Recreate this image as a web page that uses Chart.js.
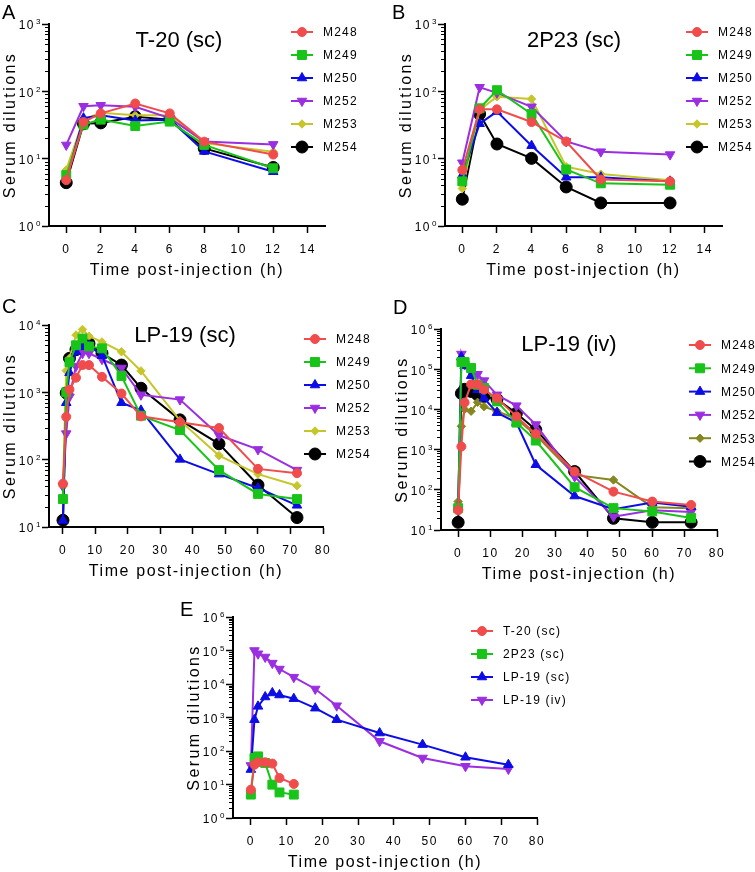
<!DOCTYPE html>
<html>
<head>
<meta charset="utf-8">
<script src="https://cdn.jsdelivr.net/npm/chart.js@4.4.1/dist/chart.umd.min.js"></script>
<style>
  html, body { margin: 0; padding: 0; background: #fff; }
  #wrap { position: relative; width: 755px; height: 872px; }
  #wrap canvas { position: absolute; left: 0; top: 0; }
</style>
</head>
<body>
<div id="wrap">
  <canvas id="chartA" width="755" height="872"></canvas>
  <canvas id="chartB" width="755" height="872"></canvas>
  <canvas id="chartC" width="755" height="872"></canvas>
  <canvas id="chartD" width="755" height="872"></canvas>
  <canvas id="chartE" width="755" height="872"></canvas>
</div>
<script>
// ---- data ----
const monkeyIds = ['M248', 'M249', 'M250', 'M252', 'M253', 'M254'];
const hoursShort = [0, 1, 2, 4, 6, 8, 12];
const hoursLong = [0, 1, 2, 4, 6, 8, 12, 18, 24, 36, 48, 60, 72];
const xTicksShort = [0, 2, 4, 6, 8, 10, 12, 14];
const xTicksLong = [0, 10, 20, 30, 40, 50, 60, 70, 80];
const yExpA = [0, 1, 2, 3];
const yExpB = [0, 1, 2, 3];
const yExpC = [1, 2, 3, 4];
const yExpD = [1, 2, 3, 4, 5, 6];
const yExpE = [0, 1, 2, 3, 4, 5, 6];

// A: T-20 (sc)
const t20M248 = [4.8, 35, 47, 66, 47, 17.9, 11.5];
const t20M249 = [5.7, 32, 38, 30.5, 35.5, 16, 7.2];
const t20M250 = [5.0, 40, 44, 37, 38, 12.8, 6.4];
const t20M252 = [16, 60, 62, 59, 40, 18, 16.3];
const t20M253 = [6.8, 38, 48, 44, 44, 17, 12.7];
const t20M254 = [4.4, 33, 34, 42, 38, 14.2, 7.4];

// B: 2P23 (sc)
const p23M248 = [6.8, 54, 54, 35, 18, 4.9, 4.6];
const p23M249 = [4.6, 56, 104, 46, 6.9, 4.3, 4.1];
const p23M250 = [5.7, 33, 50, 15.6, 5.3, 5.3, 4.6];
const p23M252 = [8.7, 115, 95, 59, 18, 12.7, 11.5];
const p23M253 = [3.6, 53, 83, 77, 7.6, 5.9, 4.8];
const p23M254 = [2.5, 46, 16.5, 10.1, 3.8, 2.2, 2.2];

// C: LP-19 (sc)
const lpScM248 = [44, 433, 1100, 1650, 2540, 2540, 1700, 960, 440, 360, 295, 73, 63];
const lpScM249 = [26, 1000, 2800, 5000, 6300, 4800, 4500, 1750, 450, 275, 70, 31, 26];
const lpScM250 = [12.5, 700, 1950, 4000, 4750, 5000, 3500, 700, 540, 101, 61, 38, 21];
const lpScM252 = [40, 244, 860, 2450, 3800, 3800, 3100, 2300, 920, 780, 230, 142, 70];
const lpScM253 = [40, 2100, 3200, 7100, 8600, 6800, 5600, 4000, 2080, 380, 115, 61, 41];
const lpScM254 = [12.6, 980, 3200, 4300, 4750, 5300, 3800, 2540, 1150, 390, 172, 42, 13.8];

// D: LP-19 (iv)
const lpIvM248 = [31, 1190, 14800, 42000, 42000, 31000, 19000, 6700, 2460, 284, 90, 51, 42];
const lpIvM249 = [35, 150000, 150000, 107000, 41000, 34000, 15800, 4700, 1680, 116, 35, 29, 20];
const lpIvM250 = [38, 200000, 123000, 69000, 31000, 19000, 8300, 4700, 420, 70, 33, 48, 38];
const lpIvM252 = [32, 238000, 130000, 90000, 75000, 52000, 23000, 12400, 4200, 213, 21.5, 31, 28];
const lpIvM253 = [51, 3800, 10000, 9000, 15000, 11700, 9000, 5800, 2300, 235, 176, 37, 35];
const lpIvM254 = [15.5, 25000, 31600, 28000, 23000, 21000, 18000, 8000, 3100, 285, 19.5, 15.5, 15.5];

// E: means per peptide
const peptideNames = ['T-20 (sc)', '2P23 (sc)', 'LP-19 (sc)', 'LP-19 (iv)'];
const meanT20 = [7, 39, 46, 46, 42, 15.6, 10.4];
const mean2P23 = [5, 62, 69, 44, 9.9, 5.8, 5];
const meanLpSc = [28, 860, 2150, 4100, 5400, 4700, 3650, 1900, 860, 344, 155, 65, 39];
const meanLpIv = [37, 100000, 80000, 64000, 42000, 28000, 16000, 7100, 2250, 195, 62, 35, 29];

// ---- styles ----
const FONT = "'Liberation Sans', Arial, sans-serif";
const RED = '#f04c4c', GREEN = '#18c418', BLUE = '#0c0ce6', PURPLE = '#9a2ee0',
      YELLOW = '#c6c62a', OLIVE = '#86861e', BLACK = '#000000';

const mk = (color, pointStyle, radius, rotation) => ({ color, pointStyle, radius, rotation: rotation || 0 });
const monkeyStyles = [
  mk(RED, 'circle', 4.5), mk(GREEN, 'rect', 6.3), mk(BLUE, 'triangle', 5.5),
  mk(PURPLE, 'triangle', 5.5, 180), mk(YELLOW, 'rectRot', 4.2), mk(BLACK, 'circle', 6)
];
const monkeyStylesD = monkeyStyles.map((s, i) => i === 4 ? mk(OLIVE, 'rectRot', 4.2) : s);
const peptideStyles = [
  mk(RED, 'circle', 4.5), mk(GREEN, 'rect', 6.3), mk(BLUE, 'triangle', 5.5), mk(PURPLE, 'triangle', 5.5, 180)
];

// draws the GraphPad-like extras: letter, title, y labels, minor ticks, axis titles, legend
const decor = {
  id: 'panelDecor',
  beforeDraw(chart) {
    chart.ctx.letterSpacing = '1.5px';
  },
  afterDraw(chart, args, o) {
    const ctx = chart.ctx;
    const ys = chart.scales.y;
    const L = chart.chartArea.left, T = chart.chartArea.top;
    const R = chart.chartArea.right, B = chart.chartArea.bottom;
    ctx.save();
    ctx.fillStyle = '#000';
    ctx.strokeStyle = '#000';

    // minor ticks on the log axis
    ctx.lineWidth = 1;
    for (let e = o.yExp[0]; e < o.yExp[o.yExp.length - 1]; e++) {
      for (let m = 2; m <= 9; m++) {
        const y = Math.round(ys.getPixelForValue(m * Math.pow(10, e))) + 0.5;
        ctx.beginPath(); ctx.moveTo(L - 4, y); ctx.lineTo(L, y); ctx.stroke();
      }
    }

    // 10^n labels
    o.yExp.forEach(e => {
      const y = ys.getPixelForValue(Math.pow(10, e));
      ctx.letterSpacing = '1.5px';
      ctx.font = '12px ' + FONT;
      ctx.textAlign = 'right';
      ctx.textBaseline = 'middle';
      ctx.fillText('10', L - 14, y + 2);
      ctx.letterSpacing = '0px';
      ctx.font = '8px ' + FONT;
      ctx.textAlign = 'left';
      ctx.fillText(String(e), L - 13, y - 2);
    });

    // panel letter
    ctx.letterSpacing = '0px';
    ctx.font = '20px ' + FONT;
    ctx.textAlign = 'left';
    ctx.textBaseline = 'top';
    ctx.fillText(o.letter[0], o.letter[1], o.letter[2]);

    // title inside the plot
    if (o.title) {
      ctx.font = '22px ' + FONT;
      ctx.textAlign = 'center';
      ctx.textBaseline = 'middle';
      ctx.fillText(o.title[0], o.title[1], o.title[2]);
    }

    // axis titles
    ctx.font = '16px ' + FONT;
    ctx.textAlign = 'center';
    ctx.textBaseline = 'middle';
    ctx.letterSpacing = '1.6px';
    ctx.fillText('Time post-injection (h)', (L + R) / 2, B + 45);
    ctx.save();
    ctx.translate(L - 38, (T + B) / 2);
    ctx.rotate(-Math.PI / 2);
    ctx.letterSpacing = '2.4px';
    ctx.fillText('Serum dilutions', 0, 0);
    ctx.restore();

    // legend: line segment with marker, then label
    const helpers = Chart.helpers;
    o.legend.names.forEach((name, i) => {
      const st = o.legend.styles[i];
      const x = o.legend.x, y = o.legend.y + i * o.legend.gap;
      ctx.strokeStyle = st.color;
      ctx.fillStyle = st.color;
      ctx.lineWidth = 2;
      ctx.beginPath(); ctx.moveTo(x - 11, y); ctx.lineTo(x + 11, y); ctx.stroke();
      ctx.lineWidth = 1;
      if (helpers && helpers.drawPoint) {
        helpers.drawPoint(ctx, { pointStyle: st.pointStyle, rotation: st.rotation, radius: st.radius, borderWidth: 1 }, x, y);
      } else {
        ctx.beginPath(); ctx.arc(x, y, st.radius, 0, Math.PI * 2); ctx.fill();
      }
      ctx.fillStyle = '#000';
      ctx.font = '12px ' + FONT;
      ctx.textAlign = 'left';
      ctx.textBaseline = 'middle';
      ctx.letterSpacing = '1.2px';
      ctx.fillText(name, x + 21, y + 1);
    });
    ctx.restore();
  }
};

function buildPanel(id, cfg) {
  const datasets = cfg.series.map((vals, i) => {
    const st = cfg.styles[i];
    return {
      label: cfg.names[i],
      data: vals.map((v, j) => ({ x: cfg.hours[i][j], y: v })),
      borderColor: st.color,
      backgroundColor: st.color,
      pointBackgroundColor: st.color,
      pointBorderColor: st.color,
      pointStyle: st.pointStyle,
      pointRotation: st.rotation,
      pointRadius: st.radius,
      pointBorderWidth: 1,
      borderWidth: 2,
      tension: 0,
      clip: false
    };
  });
  const xAxisH = 36;
  return new Chart(document.getElementById(id), {
    type: 'line',
    data: { datasets },
    options: {
      responsive: false,
      animation: false,
      events: [],
      layout: { padding: { left: 0, top: cfg.box.T, right: 755 - cfg.box.R, bottom: 872 - cfg.box.B - xAxisH } },
      plugins: {
        legend: { display: false },
        tooltip: { enabled: false },
        panelDecor: {
          letter: cfg.letter, title: cfg.title, yExp: cfg.yExp,
          legend: { names: cfg.names, styles: cfg.styles, x: cfg.legend[0], y: cfg.legend[1], gap: cfg.legend[2] }
        }
      },
      scales: {
        x: {
          type: 'linear',
          min: cfg.xRange[0], max: cfg.xRange[1],
          afterBuildTicks: s => { s.ticks = cfg.xTicks.map(v => ({ value: v })); },
          afterFit: s => { s.height = xAxisH; },
          grid: { drawOnChartArea: false, tickLength: 7, tickColor: '#000', tickWidth: 1.5 },
          border: { color: '#000', width: 2 },
          ticks: { color: '#000', font: { size: 12, family: FONT }, padding: 9, maxRotation: 0, autoSkip: false }
        },
        y: {
          type: 'logarithmic',
          min: Math.pow(10, cfg.yExp[0]), max: Math.pow(10, cfg.yExp[cfg.yExp.length - 1]),
          afterBuildTicks: s => { s.ticks = cfg.yExp.map(e => ({ value: Math.pow(10, e) })); },
          afterFit: s => { s.width = cfg.box.L; },
          grid: { drawOnChartArea: false, tickLength: 7, tickColor: '#000', tickWidth: 1.5 },
          border: { color: '#000', width: 2 },
          ticks: { display: false }
        }
      }
    },
    plugins: [decor]
  });
}

const six = n => Array(6).fill(n);

buildPanel('chartA', {
  box: { L: 49, R: 325, T: 24, B: 226 }, xRange: [-1, 15], xTicks: xTicksShort, yExp: yExpA,
  hours: six(hoursShort), names: monkeyIds, styles: monkeyStyles,
  series: [t20M248, t20M249, t20M250, t20M252, t20M253, t20M254],
  letter: ['A', 2, 3], title: ['T-20 (sc)', 179, 41], legend: [302, 32, 23]
});
buildPanel('chartB', {
  box: { L: 445, R: 722, T: 24, B: 226 }, xRange: [-1, 15], xTicks: xTicksShort, yExp: yExpB,
  hours: six(hoursShort), names: monkeyIds, styles: monkeyStyles,
  series: [p23M248, p23M249, p23M250, p23M252, p23M253, p23M254],
  letter: ['B', 392, 3], title: ['2P23 (sc)', 574, 41], legend: [697, 32, 23]
});
buildPanel('chartC', {
  box: { L: 49, R: 323, T: 325, B: 527 }, xRange: [-4.3, 80], xTicks: xTicksLong, yExp: yExpC,
  hours: six(hoursLong), names: monkeyIds, styles: monkeyStyles,
  series: [lpScM248, lpScM249, lpScM250, lpScM252, lpScM253, lpScM254],
  letter: ['C', 2, 297], title: ['LP-19 (sc)', 185, 336], legend: [315, 339, 23]
});
buildPanel('chartD', {
  box: { L: 441, R: 717, T: 329, B: 530 }, xRange: [-5.3, 80], xTicks: xTicksLong, yExp: yExpD,
  hours: six(hoursLong), names: monkeyIds, styles: monkeyStylesD,
  series: [lpIvM248, lpIvM249, lpIvM250, lpIvM252, lpIvM253, lpIvM254],
  letter: ['D', 393, 298], title: ['LP-19 (iv)', 569, 345], legend: [700, 345, 23.3]
});
buildPanel('chartE', {
  box: { L: 233, R: 537, T: 617, B: 818 }, xRange: [-5, 80], xTicks: xTicksLong, yExp: yExpE,
  hours: [hoursShort, hoursShort, hoursLong, hoursLong], names: peptideNames, styles: peptideStyles,
  series: [meanT20, mean2P23, meanLpSc, meanLpIv],
  letter: ['E', 180, 600], title: null, legend: [482, 631, 23]
});
</script>
</body>
</html>
